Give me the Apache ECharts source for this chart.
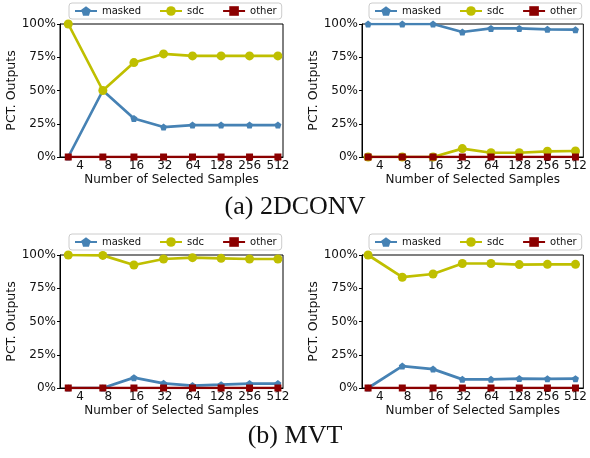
<!DOCTYPE html>
<html>
<head>
<meta charset="utf-8">
<script src="https://cdn.jsdelivr.net/npm/echarts@6/dist/echarts.min.js"></script>
<style>
  html, body { margin: 0; padding: 0; background: #fff; }
  #chart { width: 590px; height: 458px; }
</style>
</head>
<body>
<div id="chart"></div>
<script>
// x tick labels and the sample counts the points sit at (log2 axis)
const tickLabels = [4, 8, 16, 32, 64, 128, 256, 512];
const samples = [3, 7, 15, 31, 63, 127, 255, 511];
const seriesNames = ['masked', 'sdc', 'other'];

// (a) 2DCONV, left panel
const convLeftMasked = [0, 50, 29, 22.5, 24, 24, 24, 24];
const convLeftSdc = [100, 50, 71, 77.5, 76, 76, 76, 76];
const convLeftOther = [0, 0, 0, 0, 0, 0, 0, 0];

// (a) 2DCONV, right panel
const convRightMasked = [100, 100, 100, 94, 96.7, 96.7, 96, 95.7];
const convRightSdc = [0, 0, 0, 6.3, 3.2, 3.2, 4.3, 4.5];
const convRightOther = [0, 0, 0, 0, 0, 0, 0, 0];

// (b) MVT, left panel
const mvtLeftMasked = [0, 0, 7.8, 3.5, 1.8, 2.5, 3.3, 3.3];
const mvtLeftSdc = [100, 99.7, 92.5, 97, 98, 97.5, 97, 97];
const mvtLeftOther = [0, 0, 0, 0, 0, 0, 0, 0];

// (b) MVT, right panel
const mvtRightMasked = [0, 16.5, 14.2, 6.5, 6.5, 7.1, 6.9, 7];
const mvtRightSdc = [100, 83.3, 85.7, 93.6, 93.6, 92.8, 93, 93];
const mvtRightOther = [0, 0, 0, 0, 0, 0, 0, 0];

const yTicks = [0, 25, 50, 75, 100];

const panels = [
  { grid: { left: 60, top: 24, width: 223, height: 133 }, legend: { left: 69, top: 3 }, xMin: 2.45, xMax: 579,
    data: [convLeftMasked, convLeftSdc, convLeftOther] },
  { grid: { left: 362, top: 24, width: 226, height: 133 }, legend: { left: 369, top: 3 }, xMin: 2.58, xMax: 621,
    data: [convRightMasked, convRightSdc, convRightOther] },
  { grid: { left: 60, top: 255, width: 223, height: 133 }, legend: { left: 69, top: 234 }, xMin: 2.45, xMax: 579,
    data: [mvtLeftMasked, mvtLeftSdc, mvtLeftOther] },
  { grid: { left: 362, top: 255, width: 226, height: 133 }, legend: { left: 369, top: 234 }, xMin: 2.58, xMax: 621,
    data: [mvtRightMasked, mvtRightSdc, mvtRightOther] },
];

const colors = ['#4682b4', '#bfbf00', '#8b0000'];
const pentagon = 'path://M0,-1L0.951,-0.309L0.588,0.809L-0.588,0.809L-0.951,-0.309Z';
const symbols = [pentagon, 'circle', 'rect'];
const symbolSizes = [7, 9, 7];
const font = 'DejaVu Sans';

const chart = echarts.init(document.getElementById('chart'), null, { renderer: 'canvas' });

const option = {
  backgroundColor: '#fff',
  animation: false,
  grid: [],
  xAxis: [],
  yAxis: [],
  legend: [],
  series: [],
  graphic: [
    { type: 'text', left: 'center', top: 194,
      style: { text: '(a) 2DCONV', font: '26px "Liberation Serif"', fill: '#111' } },
    { type: 'text', left: 'center', top: 423,
      style: { text: '(b) MVT', font: '26px "Liberation Serif"', fill: '#111' } },
  ],
};

panels.forEach((p, i) => {
  option.grid.push(Object.assign({ show: true, borderColor: '#000', borderWidth: 1, backgroundColor: '#fff' }, p.grid));
  option.xAxis.push({
    type: 'log',
    logBase: 2,
    gridIndex: i,
    min: p.xMin,
    max: p.xMax,
    splitNumber: 5,
    name: 'Number of Selected Samples',
    nameLocation: 'middle',
    nameGap: 17,
    nameTextStyle: { fontFamily: font, fontSize: 12, color: '#111' },
    axisLine: { lineStyle: { color: '#000', width: 1 } },
    axisTick: { show: false },
    splitLine: { show: false },
    axisLabel: {
      fontFamily: font, fontSize: 12, color: '#111', margin: 3,
      formatter: v => {
        const hit = tickLabels.find(t => Math.abs(t - v) < 0.01);
        return hit ? String(hit) : '';
      },
    },
  });
  option.yAxis.push({
    type: 'value',
    gridIndex: i,
    min: yTicks[0],
    max: yTicks[yTicks.length - 1],
    interval: 25,
    name: 'PCT. Outputs',
    nameLocation: 'middle',
    nameGap: 41,
    nameTextStyle: { fontFamily: font, fontSize: 12.5, color: '#111' },
    axisLine: { show: true, lineStyle: { color: '#000', width: 1 } },
    axisTick: { show: true, length: 3, lineStyle: { color: '#000' } },
    splitLine: { show: false },
    axisLabel: { fontFamily: font, fontSize: 12, color: '#111', margin: 4, formatter: '{value}%' },
  });
  option.legend.push({
    left: p.legend.left,
    top: p.legend.top,
    data: seriesNames,
    itemWidth: 22,
    itemHeight: 12,
    itemGap: 18,
    padding: [3, 5],
    borderColor: '#ccc',
    borderWidth: 1,
    borderRadius: 3,
    backgroundColor: '#fff',
    textStyle: { fontFamily: font, fontSize: 10, color: '#111' },
  });
  seriesNames.forEach((name, k) => {
    option.series.push({
      name,
      type: 'line',
      xAxisIndex: i,
      yAxisIndex: i,
      data: samples.map((s, j) => [s, p.data[k][j]]),
      color: colors[k],
      symbol: symbols[k],
      symbolSize: symbolSizes[k],
      showAllSymbol: true,
      lineStyle: { width: 2.7, color: colors[k] },
      itemStyle: { color: colors[k] },
      clip: true,
      z: 2 + k,
    });
  });
});

chart.setOption(option);
</script>
</body>
</html>
